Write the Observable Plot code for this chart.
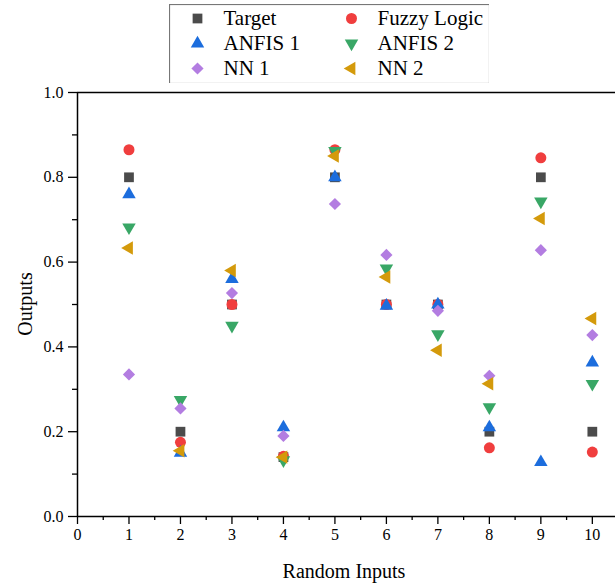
<!DOCTYPE html>
<html>
<head>
<meta charset="utf-8">
<script src="https://cdn.jsdelivr.net/npm/d3@7"></script>
<script src="https://cdn.jsdelivr.net/npm/@observablehq/plot@0.6"></script>
<style>
  html, body { margin: 0; padding: 0; background: #fff; }
  #wrap { position: relative; width: 615px; height: 585px; font-family: "Liberation Serif", "Times New Roman", serif; color: #000; }
  #main, #legend { position: absolute; }
  #main { left: 0; top: 0; }
  #legend { left: 169px; top: 4px; }
  .axt { position: absolute; font-size: 20px; white-space: nowrap; }
</style>
</head>
<body>
<div id="wrap">
  <div id="main"></div>
  <div id="legend"></div>
  <div class="axt" id="xt" style="left:344px; top:560px; transform: translateX(-50%);">Random Inputs</div>
  <div class="axt" id="yt" style="left:25px; top:304px; transform: translate(-50%,-50%) rotate(-90deg);">Outputs</div>
</div>
<script>
// ---- data ----
const inputs = [1, 2, 3, 4, 5, 6, 7, 8, 9, 10];
const target     = [0.80, 0.20, 0.50, 0.14, 0.80, 0.50, 0.50, 0.20, 0.80, 0.20];
const fuzzyLogic = [0.865, 0.175, 0.50, 0.142, 0.865, 0.50, 0.50, 0.162, 0.846, 0.152];
const anfis1     = [0.76, 0.15, 0.56, 0.21, 0.80, 0.497, 0.50, 0.21, 0.128, 0.363];
const anfis2     = [0.682, 0.275, 0.45, 0.133, 0.862, 0.585, 0.43, 0.258, 0.743, 0.313];
const nn1        = [0.335, 0.255, 0.527, 0.19, 0.737, 0.617, 0.485, 0.332, 0.628, 0.428];
const nn2        = [0.633, 0.155, 0.58, 0.14, 0.85, 0.565, 0.392, 0.313, 0.703, 0.467];
const seriesNames = ["Target", "Fuzzy Logic", "ANFIS 1", "ANFIS 2", "NN 1", "NN 2"];
const yTicks = [0, 0.2, 0.4, 0.6, 0.8, 1.0];
const xTicks = [0, 1, 2, 3, 4, 5, 6, 7, 8, 9, 10];

// ---- custom triangle symbols ----
const s3 = Math.sqrt(3);
const triangleDown = { draw(ctx, size) { const y = -Math.sqrt(size / (s3 * 3)); ctx.moveTo(0, -y * 2); ctx.lineTo(-s3 * y, y); ctx.lineTo(s3 * y, y); ctx.closePath(); } };
const triangleLeft = { draw(ctx, size) { const y = -Math.sqrt(size / (s3 * 3)); ctx.moveTo(y * 2, 0); ctx.lineTo(-y, -s3 * y); ctx.lineTo(-y, s3 * y); ctx.closePath(); } };

const values = [target, fuzzyLogic, anfis1, anfis2, nn1, nn2];
const styles = [
  { symbol: "square", fill: "#4b4b4b", r: 5.5 },
  { symbol: "circle", fill: "#f03e3e", r: 5.5 },
  { symbol: "triangle", fill: "#1c6ddd", r: 5.0 },
  { symbol: triangleDown, fill: "#39a766", r: 5.0 },
  { symbol: "diamond2", fill: "#b37de1", r: 5.5 },
  { symbol: triangleLeft, fill: "#d49a0b", r: 5.0 }
];

const minorX = d3.range(0.5, 10, 1);
const minorY = d3.range(0.1, 1, 0.2);

const main = Plot.plot({
  width: 615,
  height: 585,
  marginLeft: 77,
  marginRight: 0,
  marginTop: 92,
  marginBottom: 69,
  style: { fontFamily: "Liberation Serif, Times New Roman, serif", fontSize: "16px", color: "#000", background: "#fff" },
  x: { domain: [0, 10.45], label: null },
  y: { domain: [0, 1], label: null },
  marks: [
    Plot.axisX(xTicks, { tickSize: 8, tickPadding: 4, tickFormat: d3.format("d"), label: null, fontSize: 16, strokeWidth: 1.3 }),
    Plot.axisX(minorX, { tickSize: 4, tickFormat: () => "", label: null, strokeWidth: 1.3 }),
    Plot.axisY(yTicks, { tickSize: 9, tickPadding: 5, tickFormat: d3.format(".1f"), label: null, fontSize: 16, strokeWidth: 1.3 }),
    Plot.axisY(minorY, { tickSize: 5, tickFormat: () => "", label: null, strokeWidth: 1.3 }),
    Plot.ruleY([0], { stroke: "#000", strokeWidth: 1.5 }),
    Plot.ruleY([1], { stroke: "#000", strokeWidth: 1.5 }),
    Plot.ruleX([0], { stroke: "#000", strokeWidth: 1.5 }),
    ...values.map((vals, k) => Plot.dot(vals, { x: inputs, y: vals, symbol: styles[k].symbol, fill: styles[k].fill, r: styles[k].r, stroke: "none" }))
  ]
});
document.getElementById("main").appendChild(main);

// ---- legend ----
const col = seriesNames.map((d, i) => i % 2);
const row = seriesNames.map((d, i) => Math.floor(i / 2));
const legend = Plot.plot({
  width: 320,
  height: 79,
  margin: 0,
  style: { fontFamily: "Liberation Serif, Times New Roman, serif", fontSize: "21px", color: "#000", background: "transparent" },
  x: { domain: [0, 1], range: [28, 182], axis: null },
  y: { domain: [0, 2], range: [14, 64], axis: null },
  marks: [
    Plot.frame({ stroke: "#777", strokeWidth: 1.2 }),
    ...seriesNames.map((name, k) => Plot.dot([name], { x: [col[k]], y: [row[k]], symbol: styles[k].symbol, fill: styles[k].fill, r: styles[k].r, stroke: "none" })),
    Plot.text(seriesNames, { x: col, y: row, text: d => d, textAnchor: "start", dx: 26, fontSize: 21, fill: "#000" })
  ]
});
document.getElementById("legend").appendChild(legend);
</script>
</body>
</html>
